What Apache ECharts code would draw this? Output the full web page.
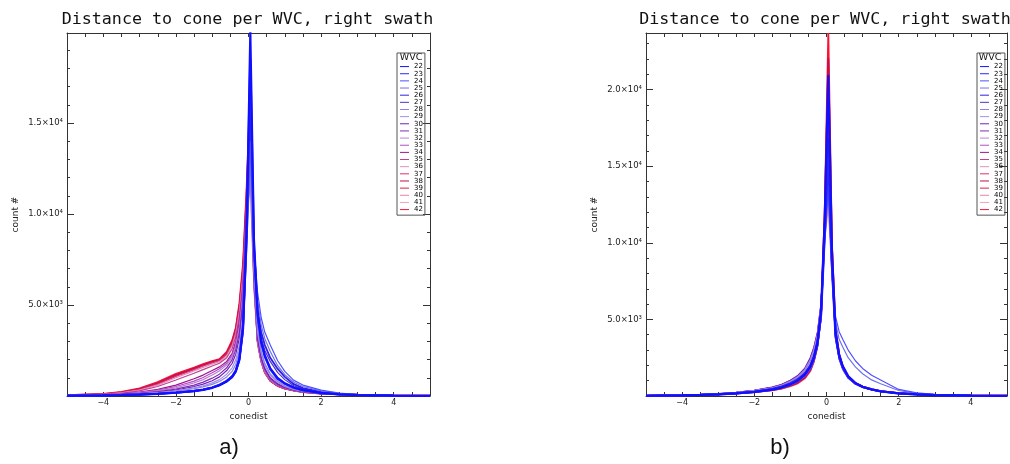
<!DOCTYPE html>
<html><head><meta charset="utf-8">
<script src="https://cdn.jsdelivr.net/npm/echarts@6/dist/echarts.min.js"></script>
<style>html,body{margin:0;padding:0;background:#fff}#c{width:1010px;height:464px}</style>
</head><body><div id="c"></div>
<script>
// WVC labels (legend)
const wvc = ['22','23','24','25','26','27','28','29','30','31','32','33','34','35','36','37','38','39','40','41','42'];
const wvcColors = ['#1010ff','#2828ff','#5050ff','#7070f0','#3020e0','#5030d0','#9080e0','#a090e8','#7020c0','#8030b0',
  '#c080d8','#b050c0','#a01090','#c04090','#e090c0','#e03070','#c01050','#d82048','#f080a0','#f0a0b8','#ff1030'];
const wvcWidths = [2.2,2.2,1.2,1.2,1.8,1.2,1.2,1.2,1.2,1.2,1.2,1.2,1.2,1.2,1.2,1.2,1.8,1.2,1.2,1.2,1.8];
// conedist sample positions (x)
const conedist = [-5,-4,-3.5,-3,-2.5,-2,-1.5,-1.25,-1,-0.8,-0.6,-0.45,-0.35,-0.25,-0.15,-0.05,0.05,0.15,0.25,0.35,0.45,0.6,0.8,1,1.25,1.5,2,2.5,3,4,5];
// y tick label values
const yTicksA = [5000,10000,15000];
const yTicksB = [5000,10000,15000,20000];
const xTickLabels = [-4,-2,0,2,4];

// panel a) counts per WVC (rows: WVC 22..42)
const countsA = [
 [15,35,55,80,120,180,270,340,450,590,800,1050,1350,2000,3700,9000,19990,8600,4600,3000,2250,1520,1000,700,470,330,170,95,55,22,10],
 [18,38,58,85,125,185,280,350,470,610,830,1080,1400,2100,3900,9500,18500,8200,4400,2900,2150,1470,950,680,450,310,160,90,50,20,8],
 [12,30,50,75,110,170,260,330,440,580,780,1000,1300,1900,3400,8000,14000,8200,5700,4300,3500,2800,1950,1350,860,600,320,160,80,30,10],
 [14,32,52,78,115,175,265,335,450,590,800,1030,1330,1950,3500,8200,13000,7900,5200,3900,3150,2450,1680,1170,760,520,280,140,75,28,10],
 [16,36,56,82,120,180,275,345,460,600,810,1060,1380,2050,3800,9200,16500,8200,4800,3500,2800,2100,1500,1050,650,430,220,110,60,24,10],
 [17,38,60,88,130,195,290,365,480,630,850,1100,1420,2100,3900,9000,15200,7800,4500,3200,2500,1900,1300,900,560,380,195,100,55,22,9],
 [20,45,70,110,170,260,400,500,640,800,1050,1350,1750,2500,4300,9000,12500,7200,3700,2450,1780,1220,810,560,380,270,150,85,50,22,9],
 [22,48,75,120,185,290,450,560,720,900,1200,1550,2000,2800,4600,9500,13500,7000,3500,2350,1680,1130,760,530,360,260,145,80,48,20,8],
 [25,55,85,135,210,330,520,650,840,1050,1400,1800,2300,3200,5000,10000,14800,6800,3300,2150,1520,1000,680,480,330,240,135,78,46,20,8],
 [28,60,95,150,240,380,600,760,980,1200,1550,2000,2550,3500,5300,10200,13200,6400,3100,2050,1440,950,640,460,320,235,130,76,45,19,8],
 [30,65,105,170,280,450,720,900,1150,1380,1700,2150,2700,3700,5500,10000,12000,6200,3000,1980,1390,920,620,450,315,230,130,76,45,19,8],
 [32,70,115,190,320,520,820,1020,1280,1500,1800,2250,2850,3900,5800,10500,14300,6300,3000,1970,1380,910,610,440,310,225,128,75,45,19,8],
 [34,75,125,210,360,600,950,1150,1400,1600,1900,2350,3000,4100,6000,10800,15600,6500,3050,1970,1380,900,600,430,305,222,126,75,45,19,8],
 [36,85,150,280,520,880,1250,1450,1650,1800,2100,2600,3250,4400,6400,10500,13000,6200,2950,1920,1320,860,580,420,300,220,125,90,60,28,12],
 [38,90,170,320,600,1000,1380,1570,1750,1880,2200,2750,3400,4600,6600,10300,11800,6000,2900,1890,1300,850,570,415,300,220,125,92,62,30,12],
 [40,95,185,350,650,1080,1450,1650,1820,1950,2300,2850,3550,4800,6800,10800,14600,6500,3000,1920,1300,850,570,415,300,220,125,95,65,32,13],
 [42,100,200,380,700,1150,1500,1700,1870,1980,2350,2950,3650,4900,7000,11200,16000,6700,3050,1940,1300,840,560,410,300,220,126,100,70,35,15],
 [40,105,210,400,730,1180,1530,1720,1890,2000,2380,3000,3700,5000,7100,11000,15000,6400,2950,1900,1280,830,555,405,298,220,127,98,68,34,14],
 [38,100,200,370,690,1120,1480,1680,1850,1960,2300,2900,3600,4800,6800,10500,12600,6100,2850,1860,1260,820,550,400,295,218,126,96,66,33,14],
 [36,95,190,360,670,1100,1460,1650,1820,1930,2250,2850,3500,4700,6600,10200,11500,5900,2800,1830,1240,810,545,398,292,216,125,94,64,32,13],
 [45,110,220,420,760,1220,1560,1750,1920,2030,2420,3050,3750,5100,7300,11500,16800,6900,3100,1960,1310,850,570,415,305,225,130,105,75,38,16]
];
// panel b) counts per WVC (rows: WVC 22..42)
const countsB = [
 [15,45,70,105,170,260,420,550,760,1000,1400,1900,2500,3500,5600,11500,20950,9500,4200,2700,1950,1300,850,600,430,310,175,100,60,25,12],
 [16,45,72,110,175,270,430,560,780,1020,1420,1900,2450,3400,5300,10500,15620,8500,3900,2600,1900,1250,830,590,425,305,172,100,60,25,12],
 [15,42,68,100,165,250,400,520,720,950,1300,1750,2300,3200,5000,10000,13500,8200,5200,4200,3700,3000,2300,1800,1350,1050,430,200,100,35,12],
 [16,44,70,105,170,260,410,530,740,980,1350,1800,2350,3300,5100,10200,14200,8000,4800,3700,3200,2500,1900,1450,1050,800,360,170,90,32,12],
 [18,48,76,115,185,280,450,590,810,1060,1450,1950,2550,3550,5500,11000,16800,8800,4000,2550,1850,1220,810,585,420,305,175,105,65,28,13],
 [20,50,80,120,195,300,480,625,860,1120,1520,2050,2650,3650,5600,10800,14600,8400,3900,2500,1800,1200,800,580,415,300,172,104,65,28,13],
 [22,55,88,135,215,330,520,670,920,1200,1650,2250,2900,3900,5800,10800,13800,8200,3800,2450,1760,1180,790,570,410,298,170,104,65,28,13],
 [24,58,92,140,225,345,540,700,960,1250,1720,2350,3000,4000,5900,11200,15000,8600,3900,2480,1780,1190,795,575,412,300,172,105,66,28,13],
 [25,60,95,145,235,360,560,730,1000,1300,1780,2450,3100,4100,6000,11500,16200,8900,4000,2520,1800,1200,800,578,414,302,173,106,66,28,13],
 [26,62,98,150,240,370,575,745,1020,1320,1800,2480,3150,4150,6050,11000,14000,8300,3800,2420,1740,1170,785,570,410,298,171,105,66,28,13],
 [27,63,100,152,245,375,580,750,1030,1330,1820,2500,3200,4200,6100,10600,12800,8000,3700,2380,1720,1160,780,566,408,297,171,105,66,28,13],
 [26,60,96,148,238,365,565,730,1000,1290,1760,2420,3100,4100,6000,11300,15400,8700,3900,2480,1780,1190,795,575,412,300,172,106,67,29,13],
 [25,58,92,142,228,350,545,705,965,1240,1700,2330,3000,4000,5900,11600,17800,9200,4100,2550,1820,1210,805,580,415,302,173,107,68,29,13],
 [22,52,84,128,205,310,480,620,850,1090,1500,2050,2700,3700,5600,10500,13600,8300,3900,2500,1800,1200,800,580,418,305,178,110,70,30,14],
 [21,50,80,122,195,295,455,590,800,1030,1420,1950,2600,3600,5500,10200,12300,8000,3800,2450,1780,1190,795,578,418,305,178,110,70,30,14],
 [20,48,76,115,182,275,420,540,730,940,1300,1800,2450,3450,5400,11000,17160,9000,4100,2600,1850,1230,820,595,428,312,182,113,72,31,15],
 [19,46,72,108,170,255,390,500,670,860,1200,1680,2300,3300,5300,11800,22050,9800,4300,2700,1900,1260,840,610,438,320,186,116,74,32,16],
 [19,45,70,105,165,248,378,485,650,835,1170,1650,2250,3250,5200,11200,18880,9300,4200,2650,1880,1250,835,605,435,318,185,115,73,32,16],
 [18,44,68,102,160,240,365,470,630,810,1140,1600,2200,3200,5100,10500,14500,8600,4000,2580,1840,1230,825,600,432,316,184,115,73,32,16],
 [18,43,66,100,156,234,355,458,615,790,1110,1560,2150,3150,5000,10300,13100,8300,3900,2540,1820,1220,820,598,430,315,184,115,73,32,16],
 [20,46,72,108,168,250,380,488,655,845,1180,1660,2280,3300,5300,12000,23700,10000,4400,2750,1940,1280,850,615,442,322,188,118,76,33,17]
];
const yMaxA = 19950, yMaxB = 23700;

const chart = echarts.init(document.getElementById('c'), null, {renderer: 'canvas'});
const sup = {3: '\u00b3', 4: '\u2074'};
function yFmt(ticks) {
  return function (v) {
    if (ticks.indexOf(v) < 0) return '';
    const e = Math.floor(Math.log10(v) + 1e-9);
    const m = v / Math.pow(10, e);
    return m.toFixed(1) + '\u00d710' + sup[e];
  };
}
function xFmt(v) {
  for (const t of xTickLabels) if (Math.abs(t - v) < 1e-9) return t < 0 ? '\u2212' + Math.abs(t) : String(t);
  return '';
}
const axisColor = '#333';
const txtFont = 'DejaVu Sans';
function xAx(grid, pos, labels) {
  return {
    type: 'value', gridIndex: grid, position: pos, min: -5, max: 5, interval: 0.5,
    axisLine: {show: true, onZero: false, lineStyle: {color: axisColor, width: 1}},
    axisTick: {show: true, inside: true, length: 4, lineStyle: {color: axisColor}},
    axisLabel: {show: labels, formatter: xFmt, fontSize: 8, color: '#222', margin: 3, fontFamily: txtFont},
    splitLine: {show: false},
    name: labels ? 'conedist' : '', nameLocation: 'middle', nameGap: 13,
    nameTextStyle: {fontSize: 9, color: '#222', fontFamily: txtFont}
  };
}
function yAx(grid, pos, labels, max, ticks) {
  return {
    type: 'value', gridIndex: grid, position: pos, min: 0, max: max, interval: 5000,
    axisLine: {show: true, onZero: false, lineStyle: {color: axisColor, width: 1}},
    axisTick: {show: true, inside: true, length: 7, lineStyle: {color: axisColor}},
    minorTick: {show: true, splitNumber: 5, length: 3, lineStyle: {color: axisColor}},
    axisLabel: {show: labels, formatter: yFmt(ticks), fontSize: 8.5, color: '#222', margin: 4, fontFamily: txtFont},
    splitLine: {show: false}, minorSplitLine: {show: false},
    name: labels ? 'count #' : '', nameLocation: 'middle', nameGap: 47, nameRotate: 90,
    nameTextStyle: {fontSize: 9, color: '#222', fontFamily: txtFont}
  };
}
const series = [];
[[countsA, 0], [countsB, 1]].forEach(([counts, p]) => {
  for (let i = counts.length - 1; i >= 0; i--) {
    series.push({
      type: 'line', name: wvc[i], xAxisIndex: p * 2, yAxisIndex: p * 2,
      data: conedist.map((x, k) => [x, counts[i][k]]),
      showSymbol: false, symbol: 'none', silent: true, clip: true,
      lineStyle: {color: wvcColors[i], width: wvcWidths[i]},
      itemStyle: {color: wvcColors[i]}
    });
  }
});
function legendAt(left) {
  return {
    data: wvc, orient: 'vertical', left: left, top: 53, icon: 'rect', itemWidth: 9, itemHeight: 1,
    itemGap: 0, selectedMode: false, padding: [10, 2, 2, 3], borderColor: '#555', borderWidth: 1,
    textStyle: {fontSize: 7, lineHeight: 7.15, color: '#000', fontFamily: txtFont}
  };
}
const titleText = 'Distance to cone per WVC, right swath';
function txt(t, x, y, size, fam) {
  return {type: 'text', x: x, y: y, silent: true,
    style: {text: t, fontSize: size, fontFamily: fam, fill: '#111', align: 'center', verticalAlign: 'middle'}};
}
chart.setOption({
  animation: false,
  backgroundColor: '#fff',
  grid: [
    {left: 67, top: 33, width: 363, height: 363, containLabel: false},
    {left: 646, top: 33, width: 362, height: 363, containLabel: false}
  ],
  xAxis: [xAx(0, 'bottom', true), xAx(0, 'top', false), xAx(1, 'bottom', true), xAx(1, 'top', false)],
  yAxis: [yAx(0, 'left', true, yMaxA, yTicksA), yAx(0, 'right', false, yMaxA, yTicksA),
          yAx(1, 'left', true, yMaxB, yTicksB), yAx(1, 'right', false, yMaxB, yTicksB)],
  legend: [legendAt(397), legendAt(977)],
  graphic: [
    txt(titleText, 247.5, 20, 16.7, 'DejaVu Sans Mono'),
    txt(titleText, 825, 20, 16.7, 'DejaVu Sans Mono'),
    txt('WVC', 411, 58, 9.5, txtFont),
    txt('WVC', 990, 58, 9.5, txtFont),
    txt('a)', 229, 448, 22, 'Liberation Sans'),
    txt('b)', 780, 448, 22, 'Liberation Sans')
  ],
  series: series
});
</script></body></html>
